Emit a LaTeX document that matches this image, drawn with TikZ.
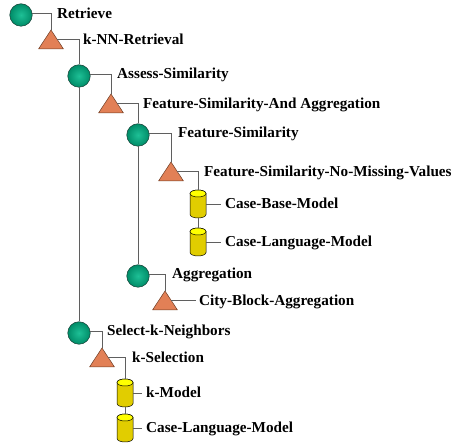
\documentclass[tikz,border=0pt]{standalone}
\usepackage{fontspec}
\setmainfont{Liberation Serif}
\usetikzlibrary{calc}

\definecolor{linegray}{RGB}{95,95,95}
\definecolor{taskhi}{RGB}{30,192,150}
\definecolor{tasklo}{RGB}{0,140,104}
\definecolor{taskedge}{RGB}{20,60,50}
\definecolor{methodfill}{RGB}{226,128,86}
\definecolor{methodedge}{RGB}{110,60,35}
\definecolor{modelside}{RGB}{225,205,0}
\definecolor{modelmid}{RGB}{255,255,70}
\definecolor{modeltop}{RGB}{255,255,0}

\tikzset{
  conn/.style={draw=linegray, line width=0.6pt},
  lbl/.style={anchor=base west, inner sep=0pt,
    font=\fontsize{15.2}{16}\selectfont\bfseries},
  taskball/.style={circle, minimum size=22.5pt, inner sep=0pt,
    draw=taskedge, line width=0.5pt, inner color=taskhi, outer color=tasklo},
  methodshape/.style={fill=methodfill, draw=methodedge, line width=0.5pt, line join=round},
  modelbody/.style={draw=black, line width=0.5pt,
    left color=modelside, middle color=modelmid, right color=modelside},
  modelcap/.style={draw=black, line width=0.5pt, fill=modeltop},
  % task: shaded ball, named at its centre
  pics/task/.style={code={
    \node[taskball] (-c) at (0,0) {};
    \coordinate (-stub) at (11,-2);
  }},
  % method: triangle drawn from its apex
  pics/method/.style={code={
    \path[methodshape] (0,0) -- (12.5,19) -- (-12.5,19) -- cycle;
    \coordinate (-apex) at (0,0);
    \coordinate (-stub) at (6.25,9.5);
  }},
  % model: cylinder drawn from the top of its lid
  pics/model/.style={code={
    \path[modelbody] (-8,3.5) -- (-8,24.5)
      arc[start angle=180, end angle=0, x radius=8, y radius=3.5]
      -- (8,3.5)
      arc[start angle=0, end angle=-180, x radius=8, y radius=3.5] -- cycle;
    \path[modelcap] (0,3.5) ellipse [x radius=8, y radius=3.5];
    \coordinate (-top) at (0,0);
    \coordinate (-bot) at (0,28);
    \coordinate (-stub) at (8,14);
  }},
}

\begin{document}
\begin{tikzpicture}[x=1pt, y=-1pt]
\useasboundingbox (0,0) rectangle (453,443);

% positions of the tree elements
\coordinate (p-retrieve) at (21,15);
\coordinate (p-knn) at (51,30);
\coordinate (p-assess) at (79,76);
\coordinate (p-fsaa) at (111,94);
\coordinate (p-fs) at (138,135);
\coordinate (p-fsnmv) at (171,162);
\coordinate (p-cbm) at (198,190);
\coordinate (p-clm) at (198,228);
\coordinate (p-agg) at (138,276);
\coordinate (p-cba) at (165,291);
\coordinate (p-select) at (79,333);
\coordinate (p-ksel) at (102,348);
\coordinate (p-kmod) at (125,379);
\coordinate (p-clmb) at (125,414);

% shapes
\pic (retrieve) at (p-retrieve) {task};
\pic (knn) at (p-knn) {method};
\pic (assess) at (p-assess) {task};
\pic (fsaa) at (p-fsaa) {method};
\pic (fs) at (p-fs) {task};
\pic (fsnmv) at (p-fsnmv) {method};
\pic (cbm) at (p-cbm) {model};
\pic (clm) at (p-clm) {model};
\pic (agg) at (p-agg) {task};
\pic (cba) at (p-cba) {method};
\pic (select) at (p-select) {task};
\pic (ksel) at (p-ksel) {method};
\pic (kmod) at (p-kmod) {model};
\pic (clmb) at (p-clmb) {model};

% labels
\node[lbl] (retrieve-l) at (57,18.2) {Retrieve};
\node[lbl] (knn-l) at (83,44.4) {k-NN-Retrieval};
\node[lbl] (assess-l) at (117,78.6) {Assess-Similarity};
\node[lbl] (fsaa-l) at (143,108.4) {Feature-Similarity-And Aggregation};
\node[lbl] (fs-l) at (178,137.9) {Feature-Similarity};
\node[lbl] (fsnmv-l) at (204,176.4) {Feature-Similarity-No-Missing-Values};
\node[lbl] (cbm-l) at (225,208.9) {Case-Base-Model};
\node[lbl] (clm-l) at (225,246.9) {Case-Language-Model};
\node[lbl] (agg-l) at (172,278.9) {Aggregation};
\node[lbl] (cba-l) at (199,305.4) {City-Block-Aggregation};
\node[lbl] (select-l) at (107,335.9) {Select-k-Neighbors};
\node[lbl] (ksel-l) at (132,362.4) {k-Selection};
\node[lbl] (kmod-l) at (146,397.9) {k-Model};
\node[lbl] (clmb-l) at (146,432.9) {Case-Language-Model};

% tree connectors
\draw[conn] (retrieve-stub) -| (knn-apex);
\draw[conn] (knn-stub) -| (assess-c.north);
\draw[conn] (assess-c.south) -- (select-c.north);
\draw[conn] (assess-stub) -| (fsaa-apex);
\draw[conn] (fsaa-stub) -| (fs-c.north);
\draw[conn] (fs-c.south) -- (agg-c.north);
\draw[conn] (fs-stub) -| (fsnmv-apex);
\draw[conn] (fsnmv-stub) -| (cbm-top);
\draw[conn] (cbm-bot) -- (clm-top);
\draw[conn] (agg-stub) -| (cba-apex);
\draw[conn] (select-stub) -| (ksel-apex);
\draw[conn] (ksel-stub) -| (kmod-top);
\draw[conn] (kmod-bot) -- (clmb-top);
% short ticks to the labels of leaves
\draw[conn] (cba-stub) -- ($(cba-stub -| cba-l.west)+(-3,0)$);
\draw[conn] (cbm-stub) -- ($(cbm-stub -| cbm-l.west)+(-4,0)$);
\draw[conn] (clm-stub) -- ($(clm-stub -| clm-l.west)+(-4,0)$);
\draw[conn] (kmod-stub) -- ($(kmod-stub -| kmod-l.west)+(-4,0)$);
\draw[conn] (clmb-stub) -- ($(clmb-stub -| clmb-l.west)+(-4,0)$);
\end{tikzpicture}
\end{document}
